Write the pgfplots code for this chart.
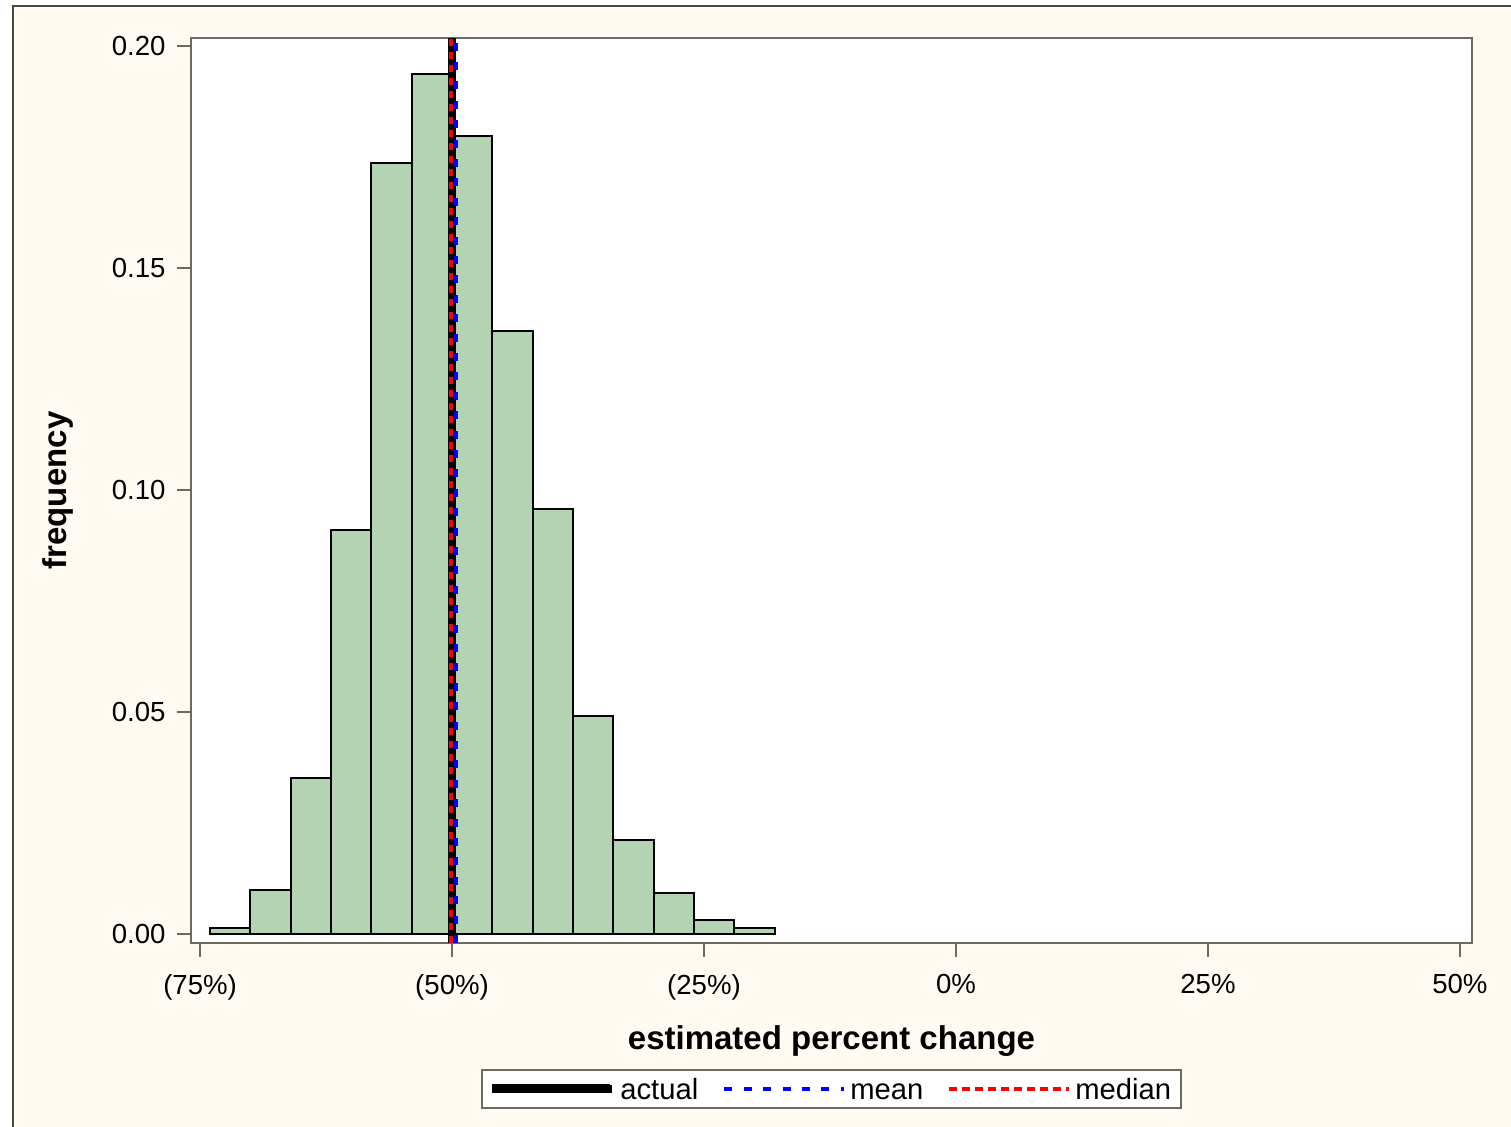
\documentclass[border=0pt]{standalone}
\usepackage{pgfplots}
\pgfplotsset{compat=1.18}
\usepackage{fontspec}
\setmainfont{Liberation Sans}
\definecolor{cream}{HTML}{FFFBF3}
\definecolor{outerline}{HTML}{4B483E}
\definecolor{axisline}{HTML}{6E6A5E}
\definecolor{barfill}{HTML}{B3D3B3}
\begin{document}
\begin{tikzpicture}
\useasboundingbox (0,0) rectangle (755.5pt,-563.5pt);
\clip (0,0) rectangle (755.5pt,-563.5pt);
\fill[white] (0,0) rectangle (755.5pt,-563.5pt);
\fill[cream] (6.5pt,-3pt) rectangle (800pt,-600pt);
\draw[outerline, line width=1.25pt] (6.5pt,-600pt) -- (6.5pt,-3pt) -- (800pt,-3pt);
\begin{axis}[
  at={(95.5pt,-471.5pt)}, anchor=south west,
  scale only axis, width=640.5pt, height=452.5pt,
  xmin=-75.9, xmax=51.2, ymin=-0.002, ymax=0.2018,
  axis background/.style={fill=white},
  axis line style={axisline, line width=1.2pt},
  every tick/.style={axisline, line width=1.2pt},
  tick align=outside,
  major tick length=7pt,
  xtick pos=left, ytick pos=left,
  xtick={-75,-50,-25,0,25,50},
  xticklabels={(75\%),(50\%),(25\%),0\%,25\%,50\%},
  ytick={0,0.05,0.1,0.15,0.2},
  /pgf/number format/fixed, /pgf/number format/fixed zerofill, /pgf/number format/precision=2,
  /pgf/number format/assume math mode=true,
  tick label style={font=\fontsize{13.8}{16}\selectfont, inner sep=0pt},
  yticklabel style={anchor=east, xshift=-5.5pt},
  xticklabel style={anchor=north, yshift=-8.5pt},
  xlabel={estimated percent change},
  ylabel={frequency},
  xlabel style={at={(axis description cs:0.5,-0.1085)}, anchor=center, font=\fontsize{16.5}{19}\selectfont\bfseries},
  ylabel style={at={(axis description cs:-0.1038,0.5)}, anchor=center, font=\fontsize{16.5}{19}\selectfont\bfseries},
  legend columns=3,
  legend style={at={(0.5,-0.1613)}, anchor=center, draw=axisline, line width=1pt, fill=white,
    font=\fontsize{14.6}{17}\selectfont, inner xsep=3pt, inner ysep=1pt,
    /tikz/every even column/.append style={column sep=10pt}},
  legend cell align=left,
]
\addplot[ybar interval, fill=barfill, draw=black, line width=1pt, forget plot] coordinates {
(-74,0.0013)(-70,0.0099)(-66,0.0351)(-62,0.0910)(-58,0.1736)(-54,0.1937)(-50,0.1797)(-46,0.1358)(-42,0.0957)(-38,0.0491)(-34,0.0212)(-30,0.0092)(-26,0.0032)(-22,0.0013)(-18,0.0013)};
\addplot[black, line width=4pt, legend image code/.code={\path (0pt,0pt) -- (60pt,0pt);\draw[black,line width=4.5pt] (0pt,0pt) -- (59pt,0pt);}] coordinates {(-50,-0.002) (-50,0.2018)};
\addlegendentry{\strut actual}
\addplot[blue, line width=2pt, dash pattern=on 4pt off 5.7pt, legend image code/.code={\path (0pt,0pt) -- (60pt,0pt);\draw[blue,line width=2pt,dash pattern=on 4pt off 5.7pt] (0pt,0pt) -- (52.5pt,0pt);}] coordinates {(-49.6,-0.002) (-49.6,0.2018)};
\addlegendentry{\strut mean}
\addplot[red, line width=2pt, dash pattern=on 3.7pt off 2.8pt, legend image code/.code={\path (0pt,0pt) -- (60pt,0pt);\draw[red,line width=2pt,dash pattern=on 3.7pt off 2.8pt] (0pt,0pt) -- (55pt,0pt);}] coordinates {(-50.1,-0.002) (-50.1,0.2018)};
\addlegendentry{\strut median}
\end{axis}
\end{tikzpicture}
\end{document}
